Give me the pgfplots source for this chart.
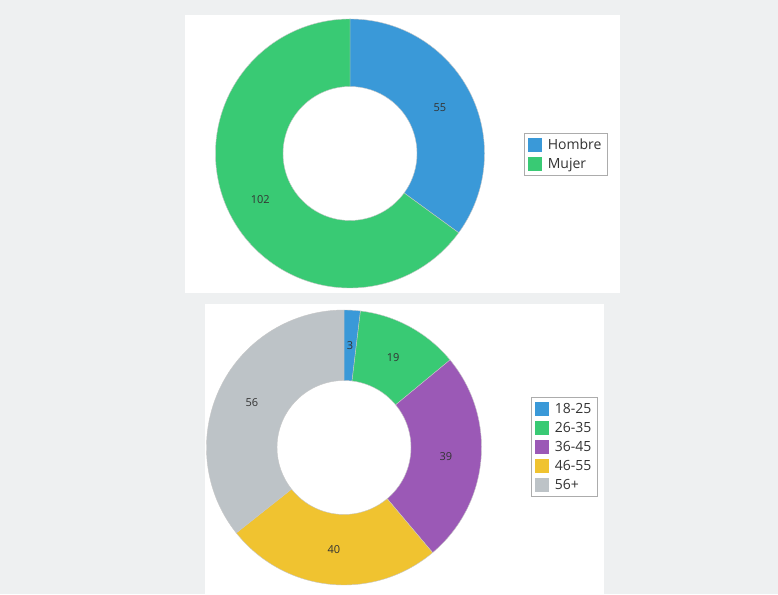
\documentclass[border=0pt]{standalone}
\usepackage{pgfplots}
\pgfplotsset{compat=1.18}
\usepackage{fontspec}
\setmainfont{Open Sans}
\definecolor{cBlue}{HTML}{3A99D8}
\definecolor{cGreen}{HTML}{39CA74}
\definecolor{cPurple}{HTML}{9B59B6}
\definecolor{cYellow}{HTML}{F0C330}
\definecolor{cGray}{HTML}{BDC3C7}
\definecolor{bgc}{RGB}{238,240,241}
\definecolor{lblc}{HTML}{333333}
% slice: {cx}{cy}{R}{r}{value}{total}{color}{label}
\newcommand\slice[8]{%
\pgfplotsextra{%
 \pgfmathsetmacro\slStart{90-\slCum/#6*360}%
 \pgfmathsetmacro\slEnd{90-(\slCum+#5)/#6*360}%
 \pgfmathsetmacro\slMid{(\slStart+\slEnd)/2}%
 \pgfmathsetmacro\slRad{(#3+#4)/2}%
 \fill[#7, draw=black!22, line width=0.4pt]
   ([shift={(\slStart:#3pt)}]axis cs:#1,#2) arc[start angle=\slStart, end angle=\slEnd, radius=#3pt]
   -- ([shift={(\slEnd:#4pt)}]axis cs:#1,#2) arc[start angle=\slEnd, end angle=\slStart, radius=#4pt] -- cycle;
 \node[font=\fontsize{11}{13}\selectfont, text=lblc] at ([shift={(\slMid:\slRad pt)}]axis cs:#1,#2) {#8};
 \pgfmathsetmacro\slNew{\slCum+#5}%
 \xdef\slCum{\slNew}%
}}
\pgfplotsset{
  canvas/.style={width=778pt, height=594pt, scale only axis, xmin=0, xmax=778, ymin=0, ymax=594,
    hide axis, clip=false, at={(0,0)}, anchor=south west,
    legend cell align=left,
    legend image code/.code={\fill[##1, draw=none] (0pt,-7pt) rectangle (14pt,7pt); \path (17pt,0pt);},
    legend style={draw=gray!65, fill=white, font=\fontsize{14}{16}\selectfont, text=lblc,
      inner xsep=4pt, inner ysep=3.5pt, row sep=3.4pt, line width=0.8pt}}
}
\gdef\slCum{0}
\begin{document}
\begin{tikzpicture}
\fill[bgc] (0,0) rectangle (778pt,594pt);
\fill[white] (185pt,301pt) rectangle (620pt,579pt);
\fill[white] (205pt,0pt) rectangle (604pt,290pt);
\begin{axis}[canvas, legend style={at={(524/778,461/594)}, anchor=north west}]
\pgfplotsextra{\gdef\slCum{0}}
\addlegendimage{fill=cBlue}\addlegendentry{Hombre}
\addlegendimage{fill=cGreen}\addlegendentry{Mujer}
\slice{350}{440.5}{134.5}{67}{55}{157}{cBlue}{55}
\slice{350}{440.5}{134.5}{67}{102}{157}{cGreen}{102}
\end{axis}
\begin{axis}[canvas, legend style={at={(531/778,197/594)}, anchor=north west}]
\pgfplotsextra{\gdef\slCum{0}}
\addlegendimage{fill=cBlue}\addlegendentry{18-25}
\addlegendimage{fill=cGreen}\addlegendentry{26-35}
\addlegendimage{fill=cPurple}\addlegendentry{36-45}
\addlegendimage{fill=cYellow}\addlegendentry{46-55}
\addlegendimage{fill=cGray}\addlegendentry{56+}
\slice{344}{146.5}{137.5}{67}{3}{157}{cBlue}{3}
\slice{344}{146.5}{137.5}{67}{19}{157}{cGreen}{19}
\slice{344}{146.5}{137.5}{67}{39}{157}{cPurple}{39}
\slice{344}{146.5}{137.5}{67}{40}{157}{cYellow}{40}
\slice{344}{146.5}{137.5}{67}{56}{157}{cGray}{56}
\end{axis}
\end{tikzpicture}
\end{document}
